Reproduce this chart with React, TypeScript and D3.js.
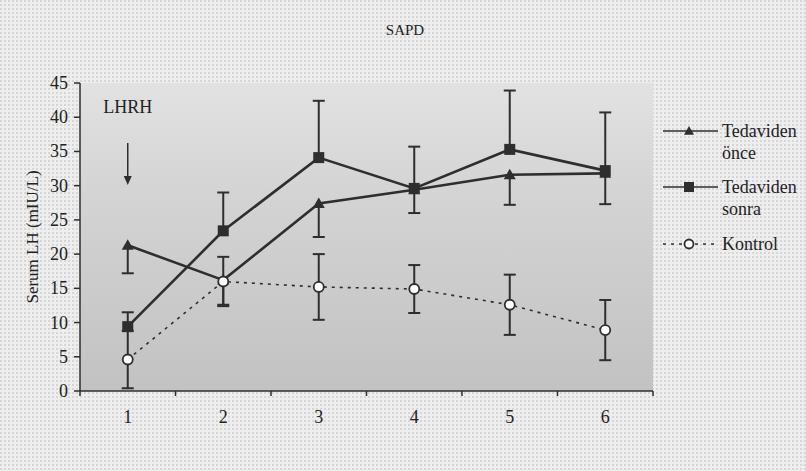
import React from "react";
import * as d3 from "d3";

const categories = ["1", "2", "3", "4", "5", "6"];
const yTicks = [0, 5, 10, 15, 20, 25, 30, 35, 40, 45];

const onceValues = [21.3, 16.2, 27.4, 29.4, 31.6, 31.8];
const onceMinus = [4.1, 3.6, 4.9, 3.4, 4.4, 4.5];

const sonraValues = [9.4, 23.4, 34.1, 29.6, 35.3, 32.2];
const sonraPlus = [2.1, 5.6, 8.3, 6.1, 8.6, 8.5];

const kontrolValues = [4.6, 16.0, 15.2, 14.9, 12.6, 8.9];
const kontrolErr = [4.2, 3.6, 4.8, 3.5, 4.4, 4.4];

const title = "SAPD";
const yLabel = "Serum LH (mIU/L)";
const legendLabels = [["Tedaviden", "önce"], ["Tedaviden", "sonra"], ["Kontrol"]];

const W = 806, H = 471;
const left = 80, right = 653, top = 83, bottom = 391;
const FONT = "'Liberation Serif', 'Times New Roman', serif";
const INK = "#2e2e2e";
const TXT = "#222";

export default function App() {
  const x = d3.scaleBand<string>().domain(categories).range([left, right]);
  const cx = (i: number) => (x(categories[i]) as number) + x.bandwidth() / 2;
  const y = d3.scaleLinear().domain([0, 45]).range([bottom, top]);
  const line = d3.line<number>().x((_, i) => cx(i)).y((d) => y(d));

  const errBar = (x0: number, y1: number, y2: number, key: string) => (
    <g key={key} stroke={INK} strokeWidth={2}>
      <line x1={x0} x2={x0} y1={y(y1)} y2={y(y2)} />
      <line x1={x0 - 6} x2={x0 + 6} y1={y(y1)} y2={y(y1)} />
      <line x1={x0 - 6} x2={x0 + 6} y1={y(y2)} y2={y(y2)} />
    </g>
  );
  const halfBar = (x0: number, from: number, to: number, key: string) => (
    <g key={key} stroke={INK} strokeWidth={2}>
      <line x1={x0} x2={x0} y1={y(from)} y2={y(to)} />
      <line x1={x0 - 6} x2={x0 + 6} y1={y(to)} y2={y(to)} />
    </g>
  );
  const tri = (px: number, py: number, key: string, s = 6) => (
    <path key={key} d={`M${px},${py - s}L${px + s},${py + s * 0.75}L${px - s},${py + s * 0.75}Z`} fill={INK} />
  );
  const sq = (px: number, py: number, key: string, s = 5.5) => (
    <rect key={key} x={px - s} y={py - s} width={2 * s} height={2 * s} fill={INK} />
  );
  const circ = (px: number, py: number, key: string) => (
    <circle key={key} cx={px} cy={py} r={5} fill="#fff" stroke={INK} strokeWidth={1.8} />
  );

  const lgX1 = 663, lgX2 = 718, lgMid = 689, lgText = 722;
  const lgY = [131, 187, 244];

  return (
    <svg width={W} height={H} style={{ position: "absolute", left: 0, top: 0, display: "block" }}>
      <defs>
        <linearGradient id="plotGrad" x1="0" y1="0" x2="0" y2="1">
          <stop offset="0%" stopColor="#e2e2e2" />
          <stop offset="35%" stopColor="#d4d4d4" />
          <stop offset="100%" stopColor="#c2c2c2" />
        </linearGradient>
        <pattern id="dots" width="4" height="4" patternUnits="userSpaceOnUse">
          <rect width="4" height="4" fill="#eeeeee" />
          <circle cx="1" cy="1" r="0.8" fill="#b8b8b8" />
        </pattern>
      </defs>
      <rect x={0} y={0} width={W} height={H} fill="url(#dots)" />
      <rect x={left} y={top} width={right - left} height={bottom - top} fill="url(#plotGrad)" />

      <text x={405} y={35} fontFamily={FONT} fontSize={15} textAnchor="middle" fill={TXT}>{title}</text>

      {/* Y axis */}
      <line x1={left} x2={left} y1={top} y2={bottom} stroke={INK} strokeWidth={1.5} />
      {yTicks.map((t) => (
        <g key={"yt" + t}>
          <line x1={left - 6} x2={left} y1={y(t)} y2={y(t)} stroke={INK} strokeWidth={1.5} />
          <text x={68} y={y(t) + 6} fontFamily={FONT} fontSize={18} textAnchor="end" fill={TXT}>{t}</text>
        </g>
      ))}
      <text transform={`translate(38,${(top + bottom) / 2}) rotate(-90)`} fontFamily={FONT} fontSize={17} textAnchor="middle" fill={TXT}>{yLabel}</text>

      {/* X axis */}
      <line x1={left} x2={right} y1={bottom} y2={bottom} stroke={INK} strokeWidth={1.5} />
      {d3.range(categories.length + 1).map((i) => (
        <line key={"xt" + i} x1={left + i * x.bandwidth()} x2={left + i * x.bandwidth()} y1={bottom} y2={bottom + 5} stroke={INK} strokeWidth={1.5} />
      ))}
      {categories.map((c, i) => (
        <text key={"xl" + c} x={cx(i)} y={423} fontFamily={FONT} fontSize={18} textAnchor="middle" fill={TXT}>{c}</text>
      ))}

      {/* LHRH annotation */}
      <text x={cx(0)} y={113} fontFamily={FONT} fontSize={18} textAnchor="middle" fill={TXT}>LHRH</text>
      <line x1={cx(0)} x2={cx(0)} y1={143} y2={178} stroke={INK} strokeWidth={1.5} />
      <path d={`M${cx(0) - 4},${176}L${cx(0) + 4},${176}L${cx(0)},${185}Z`} fill={INK} />

      {/* Error bars */}
      {kontrolValues.map((v, i) => errBar(cx(i), v - kontrolErr[i], v + kontrolErr[i], "ke" + i))}
      {onceValues.map((v, i) => halfBar(cx(i), v, v - onceMinus[i], "oe" + i))}
      {sonraValues.map((v, i) => halfBar(cx(i), v, v + sonraPlus[i], "se" + i))}

      {/* Lines */}
      <path d={line(kontrolValues) || ""} fill="none" stroke={INK} strokeWidth={1.6} strokeDasharray="3,5" />
      <path d={line(onceValues) || ""} fill="none" stroke={INK} strokeWidth={2.6} />
      <path d={line(sonraValues) || ""} fill="none" stroke={INK} strokeWidth={2.6} />

      {/* Markers */}
      {onceValues.map((v, i) => tri(cx(i), y(v), "ot" + i))}
      {sonraValues.map((v, i) => sq(cx(i), y(v), "ss" + i))}
      {kontrolValues.map((v, i) => circ(cx(i), y(v), "kc" + i))}

      {/* Legend */}
      <line x1={lgX1} x2={lgX2} y1={lgY[0]} y2={lgY[0]} stroke={INK} strokeWidth={1.5} />
      {tri(lgMid, lgY[0], "lt", 5)}
      <line x1={lgX1} x2={lgX2} y1={lgY[1]} y2={lgY[1]} stroke={INK} strokeWidth={1.5} />
      {sq(lgMid, lgY[1], "ls", 5)}
      <line x1={lgX1} x2={lgX2} y1={lgY[2]} y2={lgY[2]} stroke={INK} strokeWidth={1.5} strokeDasharray="3,5" />
      <circle cx={lgMid} cy={lgY[2]} r={4.5} fill="#fff" stroke={INK} strokeWidth={1.8} />
      {legendLabels.map((lines, k) =>
        lines.map((t, j) => (
          <text key={"lg" + k + j} x={lgText} y={lgY[k] + 6 + j * 22} fontFamily={FONT} fontSize={18} fill={TXT}>{t}</text>
        ))
      )}
    </svg>
  );
}
